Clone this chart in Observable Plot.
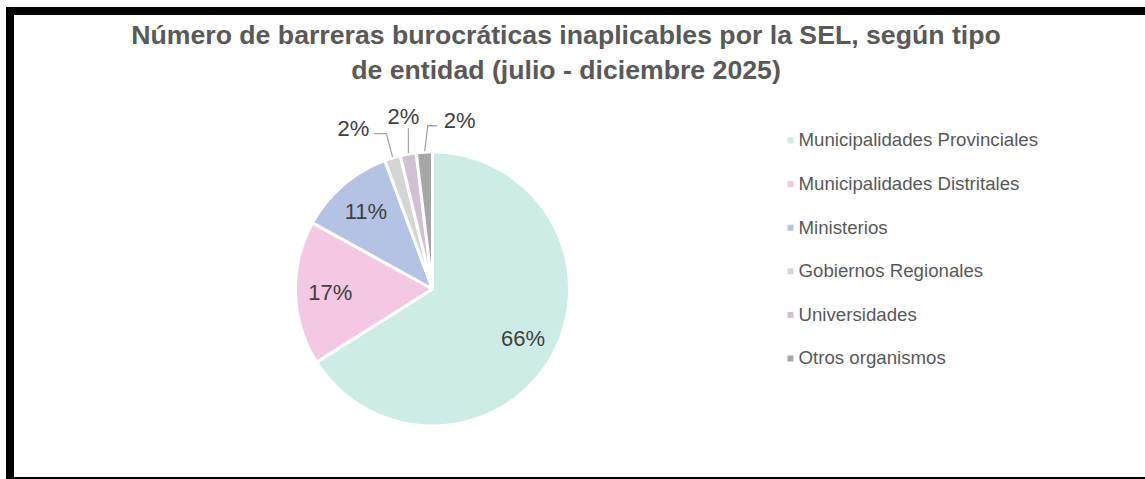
<!DOCTYPE html>
<html>
<head>
<meta charset="utf-8">
<script src="https://cdn.jsdelivr.net/npm/d3@7"></script>
<script src="https://cdn.jsdelivr.net/npm/@observablehq/plot@0.6"></script>
<style>
  html, body { margin: 0; padding: 0; background: #fff; width: 1145px; height: 479px; overflow: hidden; font-family: "Liberation Sans", Arial, sans-serif; }
  #frame { position: absolute; left: 6px; top: 7px; width: 1200px; height: 478px; border: 8px solid #000; box-sizing: border-box; z-index: 3; }
  #title { position: absolute; left: 0; top: 18px; width: 1132px; text-align: center; font-weight: bold; font-size: 26.67px; line-height: 35px; color: #595959; z-index: 2; }
  #chart { position: absolute; left: 0; top: 0; z-index: 1; }
</style>
</head>
<body>
<div id="frame"></div>
<div id="title">Número de barreras burocráticas inaplicables por la SEL, según tipo<br>de entidad (julio - diciembre 2025)</div>
<div id="chart"></div>
<script>
// ---- data ----
const categories = [
  "Municipalidades Provinciales",
  "Municipalidades Distritales",
  "Ministerios",
  "Gobiernos Regionales",
  "Universidades",
  "Otros organismos"
];
const values = [35, 9, 6, 1, 1, 1];
const palette = ["#CDECE6", "#F4C7E2", "#B4C2E3", "#D5D5D5", "#D1C0D2", "#A6A6A6"];

// ---- layout ----
const W = 1145, H = 479;
const cx = 432.5, cy = 289, R = 137;
const total = d3.sum(values);
const pctText = values.map(v => Math.round(v / total * 100) + "%");
const arcs = d3.pie().sort(null).value(d => d)(values);
const pt = (a, r) => [cx + r * Math.sin(a), cy - r * Math.cos(a)];

const slicePts = arcs.flatMap((a, i) => {
  const n = Math.max(2, Math.ceil((a.endAngle - a.startAngle) / (Math.PI / 360)));
  return d3.range(n + 1).map(k => {
    const t = a.startAngle + (a.endAngle - a.startAngle) * k / n;
    const [x, y] = pt(t, R);
    return {cat: categories[i], x, y, x0: cx, y0: cy};
  });
});

// label placement for small slices (offset from slice edge point)
const smallOffsets = {3: [-39, -28], 4: [-5, -36], 5: [35, -30]};
const labels = [];
const leaders = [];
arcs.forEach((a, i) => {
  const mid = (a.startAngle + a.endAngle) / 2;
  if (smallOffsets[i]) {
    const [px, py] = pt(mid, R + 2);
    const [dx, dy] = smallOffsets[i];
    const lx = px + dx, ly = py + dy;
    labels.push({x: lx, y: ly, text: pctText[i]});
    const c = categories[i];
    if (dx < -10) {
      leaders.push({cat: c, x: px, y: py}, {cat: c, x: px - 6, y: ly + 5}, {cat: c, x: lx + 21, y: ly + 5});
    } else if (dx > 10) {
      leaders.push({cat: c, x: px, y: py}, {cat: c, x: px + 3, y: ly + 5}, {cat: c, x: lx - 23, y: ly + 5});
    } else {
      leaders.push({cat: c, x: px, y: py}, {cat: c, x: px, y: ly + 12});
    }
  } else {
    const [x, y] = pt(mid, R * 0.75);
    labels.push({x, y, text: pctText[i]});
  }
});

const legend = categories.map((c, i) => ({cat: c, mx: 790, tx: 798, y: 140 + i * 43.6}));

const chart = Plot.plot({
  width: W,
  height: H,
  margin: 0,
  style: {background: "transparent", fontFamily: "'Liberation Sans', Arial, sans-serif"},
  x: {domain: [0, W], range: [0, W], axis: null},
  y: {domain: [0, H], range: [0, H], axis: null},
  color: {domain: categories, range: palette},
  marks: [
    Plot.area(slicePts, {x1: "x", y1: "y", x2: "x0", y2: "y0", z: "cat", fill: "cat",
      stroke: "white", strokeWidth: 3, strokeLinejoin: "round"}),
    Plot.line(leaders, {x: "x", y: "y", z: "cat", stroke: "#A6A6A6", strokeWidth: 1.3}),
    Plot.text(labels, {x: "x", y: "y", text: "text", fontSize: 22, fill: "#404040"}),
    Plot.dot(legend, {x: "mx", y: "y", fill: "cat", symbol: "square", r: 3.4}),
    Plot.text(legend, {x: "tx", y: "y", text: "cat", textAnchor: "start", fontSize: 18.67, fill: "#595959"})
  ]
});
document.getElementById("chart").appendChild(chart);
</script>
</body>
</html>
